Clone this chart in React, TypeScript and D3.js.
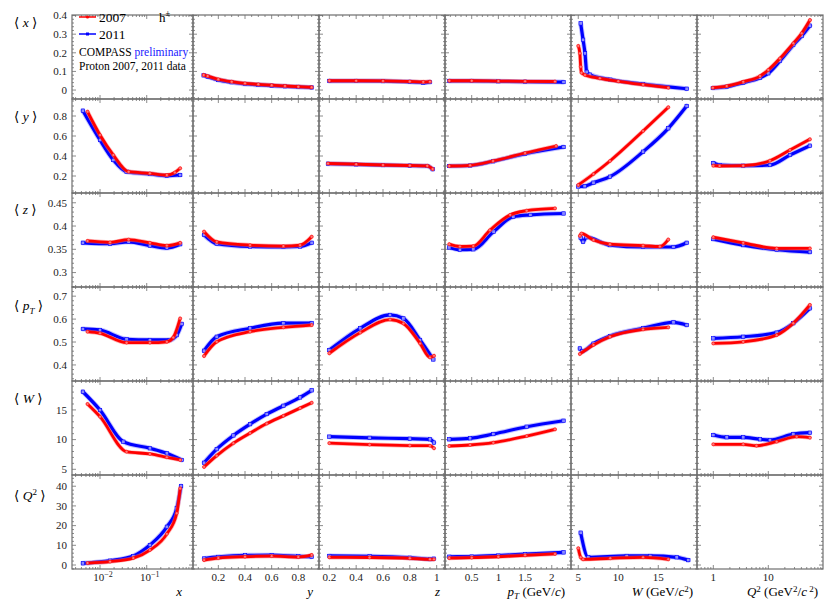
import React from 'react';
import * as d3 from 'd3';

type Pt = [number, number];

// ---------- data: <x> row ----------
const xm_y_07: Pt[] = [[0.09,0.081],[0.12,0.075],[0.2,0.058],[0.3,0.045],[0.4,0.036],[0.5,0.031],[0.6,0.026],[0.7,0.022],[0.8,0.018],[0.9,0.015]];
const xm_y_11: Pt[] = [[0.09,0.079],[0.12,0.072],[0.2,0.054],[0.3,0.042],[0.4,0.033],[0.5,0.028],[0.6,0.024],[0.7,0.020],[0.8,0.017],[0.9,0.014]];
const xm_z_07: Pt[] = [[0.2,0.05],[0.4,0.05],[0.6,0.049],[0.8,0.046],[0.9,0.044],[0.95,0.045]];
const xm_z_11: Pt[] = [[0.2,0.049],[0.4,0.049],[0.6,0.048],[0.8,0.044],[0.9,0.040],[0.95,0.043]];
const xm_pt_07: Pt[] = [[0.08,0.05],[0.5,0.05],[1.0,0.048],[1.5,0.047],[2.06,0.046]];
const xm_pt_11: Pt[] = [[0.08,0.049],[0.5,0.049],[1.0,0.047],[1.5,0.045],[2.22,0.043]];
const xm_w_07: Pt[] = [[5.0,0.237],[5.2,0.197],[5.3,0.125],[5.4,0.093],[5.84,0.081],[7.7,0.063],[10,0.047],[13.1,0.029],[16.25,0.0125]];
const xm_w_11: Pt[] = [[5.3,0.358],[5.6,0.27],[5.84,0.197],[6.05,0.098],[6.46,0.083],[9,0.056],[13.1,0.032],[18.55,0.007]];
const xm_q2_07: Pt[] = [[0.98,0.0125],[1.75,0.0215],[3.5,0.045],[7.07,0.075],[10,0.108],[16.3,0.17],[28.5,0.251],[40.5,0.305],[57.3,0.376]];
const xm_q2_11: Pt[] = [[0.98,0.011],[1.75,0.018],[3.5,0.040],[7.07,0.066],[10,0.09],[16.3,0.156],[28.5,0.242],[40.5,0.29],[57.3,0.346]];

// ---------- data: <y> row ----------
const ym_x_07: Pt[] = [[0.0054,0.843],[0.01,0.61],[0.0193,0.41],[0.041,0.243],[0.117,0.227],[0.27,0.21],[0.4,0.235],[0.52,0.277]];
const ym_x_11: Pt[] = [[0.0043,0.853],[0.01,0.56],[0.0193,0.36],[0.037,0.243],[0.117,0.22],[0.27,0.203],[0.52,0.21]];
const ym_z_07: Pt[] = [[0.19,0.325],[0.4,0.318],[0.6,0.31],[0.8,0.305],[0.93,0.302],[0.97,0.27]];
const ym_z_11: Pt[] = [[0.19,0.323],[0.4,0.316],[0.6,0.309],[0.8,0.304],[0.93,0.300],[0.97,0.268]];
const ym_pt_07: Pt[] = [[0.08,0.30],[0.47,0.307],[0.9,0.35],[1.5,0.43],[2.08,0.50]];
const ym_pt_11: Pt[] = [[0.08,0.30],[0.47,0.305],[0.9,0.347],[1.5,0.423],[2.22,0.49]];
const ym_w_07: Pt[] = [[5.0,0.11],[6.9,0.22],[8.96,0.35],[13.1,0.65],[16.25,0.887]];
const ym_w_11: Pt[] = [[5.0,0.095],[5.8,0.098],[6.9,0.133],[8.96,0.193],[13.1,0.443],[16.25,0.677],[18.55,0.90]];
const ym_q2_07: Pt[] = [[1.0,0.303],[1.3,0.300],[3.5,0.303],[10.7,0.353],[24.8,0.46],[57,0.567]];
const ym_q2_11: Pt[] = [[1.0,0.33],[1.3,0.31],[3.5,0.303],[10.7,0.31],[24.8,0.41],[57,0.503]];

// ---------- data: <z> row ----------
const zm_x_07: Pt[] = [[0.0054,0.368],[0.0164,0.365],[0.041,0.371],[0.117,0.364],[0.27,0.358],[0.52,0.364]];
const zm_x_11: Pt[] = [[0.0043,0.364],[0.0164,0.362],[0.041,0.366],[0.117,0.358],[0.27,0.353],[0.52,0.361]];
const zm_y_07: Pt[] = [[0.093,0.388],[0.188,0.366],[0.438,0.359],[0.688,0.357],[0.813,0.359],[0.9,0.377]];
const zm_y_11: Pt[] = [[0.093,0.381],[0.188,0.362],[0.438,0.356],[0.688,0.355],[0.813,0.356],[0.9,0.364]];
const zm_pt_07: Pt[] = [[0.08,0.361],[0.28,0.356],[0.53,0.357],[0.84,0.391],[1.22,0.424],[1.53,0.433],[2.06,0.438]];
const zm_pt_11: Pt[] = [[0.08,0.354],[0.28,0.349],[0.53,0.350],[0.91,0.388],[1.28,0.420],[1.6,0.424],[2.22,0.427]];
const zm_w_07: Pt[] = [[5.2,0.379],[5.4,0.384],[6.9,0.370],[8.96,0.361],[13.1,0.358],[15.2,0.356],[16.25,0.371]];
const zm_w_11: Pt[] = [[5.3,0.375],[5.6,0.366],[6.0,0.376],[8.96,0.359],[13.1,0.355],[16.9,0.355],[18.55,0.364]];
const zm_q2_07: Pt[] = [[1.0,0.376],[3.5,0.364],[14.2,0.352],[57,0.352]];
const zm_q2_11: Pt[] = [[1.0,0.372],[3.5,0.359],[14.2,0.349],[57,0.344]];

// ---------- data: <pT> row ----------
const ptm_x_07: Pt[] = [[0.0054,0.545],[0.01,0.538],[0.037,0.497],[0.117,0.497],[0.27,0.501],[0.37,0.52],[0.52,0.603]];
const ptm_x_11: Pt[] = [[0.0043,0.557],[0.01,0.552],[0.037,0.512],[0.117,0.509],[0.31,0.509],[0.44,0.53],[0.56,0.579]];
const ptm_y_07: Pt[] = [[0.093,0.439],[0.188,0.501],[0.438,0.545],[0.688,0.564],[0.9,0.574]];
const ptm_y_11: Pt[] = [[0.093,0.462],[0.188,0.523],[0.438,0.560],[0.688,0.582],[0.9,0.582]];
const ptm_z_07: Pt[] = [[0.2,0.451],[0.43,0.541],[0.652,0.598],[0.752,0.581],[0.876,0.494],[0.95,0.433],[0.98,0.44]];
const ptm_z_11: Pt[] = [[0.2,0.465],[0.43,0.560],[0.652,0.618],[0.752,0.603],[0.876,0.509],[0.975,0.424]];
const ptm_w_07: Pt[] = [[5.2,0.448],[6.9,0.487],[8.96,0.523],[13.1,0.555],[16.25,0.564]];
const ptm_w_11: Pt[] = [[5.2,0.472],[5.5,0.460],[6.9,0.493],[8.96,0.526],[13.1,0.560],[16.9,0.586],[18.55,0.574]];
const ptm_q2_07: Pt[] = [[1.0,0.494],[3.5,0.501],[14.2,0.530],[28.5,0.582],[57,0.662]];
const ptm_q2_11: Pt[] = [[1.0,0.516],[3.5,0.523],[14.2,0.541],[28.5,0.582],[57,0.647]];

// ---------- data: <W> row ----------
const wm_x_07: Pt[] = [[0.0054,16.0],[0.01,13.86],[0.037,7.96],[0.117,7.58],[0.27,7.02],[0.52,6.57]];
const wm_x_11: Pt[] = [[0.0043,18.06],[0.01,14.98],[0.0316,9.65],[0.117,8.54],[0.27,7.69],[0.56,6.57]];
const wm_y_07: Pt[] = [[0.093,5.4],[0.188,7.3],[0.313,9.4],[0.438,11.1],[0.563,12.7],[0.688,14.0],[0.813,15.3],[0.9,16.2]];
const wm_y_11: Pt[] = [[0.093,6.1],[0.188,8.4],[0.313,10.7],[0.438,12.6],[0.563,14.3],[0.688,15.7],[0.813,17.1],[0.9,18.3]];
const wm_z_07: Pt[] = [[0.2,9.4],[0.5,9.15],[0.8,9.0],[0.95,8.97],[0.98,8.55]];
const wm_z_11: Pt[] = [[0.2,10.5],[0.5,10.3],[0.8,10.15],[0.95,10.05],[0.98,9.5]];
const wm_pt_07: Pt[] = [[0.08,8.92],[0.47,9.09],[0.906,9.48],[1.53,10.6],[2.06,11.73]];
const wm_pt_11: Pt[] = [[0.08,10.05],[0.47,10.22],[0.906,10.94],[1.53,12.17],[2.22,13.18]];
const wm_q2_07: Pt[] = [[1.0,9.21],[3.5,9.21],[6.1,8.97],[14.2,9.65],[32.8,10.49],[57,10.32]];
const wm_q2_11: Pt[] = [[1.0,10.77],[1.75,10.39],[3.5,10.39],[7.07,10.05],[10.7,9.93],[28.5,10.94],[57,11.16]];

// ---------- data: <Q2> row ----------
const q2m_x_07: Pt[] = [[0.0054,1.0],[0.0164,1.7],[0.0516,3.5],[0.117,7.6],[0.27,15.8],[0.44,26.3],[0.52,38.9]];
const q2m_x_11: Pt[] = [[0.0043,0.86],[0.0164,2.2],[0.0516,4.57],[0.117,10.15],[0.27,19.4],[0.44,28.8],[0.543,40.1]];
const q2m_y_07: Pt[] = [[0.093,2.5],[0.2,3.5],[0.4,4.2],[0.6,4.5],[0.8,4.0],[0.9,5.1]];
const q2m_y_11: Pt[] = [[0.093,3.3],[0.2,4.1],[0.4,4.9],[0.6,5.0],[0.8,4.4],[0.9,4.2]];
const q2m_z_07: Pt[] = [[0.2,3.9],[0.5,3.8],[0.8,3.4],[0.95,2.9],[0.98,2.9]];
const q2m_z_11: Pt[] = [[0.2,4.6],[0.5,4.4],[0.8,3.7],[0.95,3.0],[0.98,3.2]];
const q2m_pt_07: Pt[] = [[0.08,3.5],[0.5,3.7],[1.0,4.2],[1.5,4.9],[2.06,5.6]];
const q2m_pt_11: Pt[] = [[0.08,4.2],[0.5,4.3],[1.0,4.8],[1.5,5.5],[2.22,6.4]];
const q2m_w_07: Pt[] = [[5.0,8.5],[5.3,3.9],[5.6,2.9],[9,3.4],[13.1,3.9],[16.25,2.9]];
const q2m_w_11: Pt[] = [[5.3,16.4],[6.25,3.9],[11.05,4.6],[14,4.6],[17.3,3.9],[18.75,2.5]];

// panel table [row][col] -> [2007, 2011]
const PANELS: ([Pt[], Pt[]] | null)[][] = [
  [null, [xm_y_07, xm_y_11], [xm_z_07, xm_z_11], [xm_pt_07, xm_pt_11], [xm_w_07, xm_w_11], [xm_q2_07, xm_q2_11]],
  [[ym_x_07, ym_x_11], null, [ym_z_07, ym_z_11], [ym_pt_07, ym_pt_11], [ym_w_07, ym_w_11], [ym_q2_07, ym_q2_11]],
  [[zm_x_07, zm_x_11], [zm_y_07, zm_y_11], null, [zm_pt_07, zm_pt_11], [zm_w_07, zm_w_11], [zm_q2_07, zm_q2_11]],
  [[ptm_x_07, ptm_x_11], [ptm_y_07, ptm_y_11], [ptm_z_07, ptm_z_11], null, [ptm_w_07, ptm_w_11], [ptm_q2_07, ptm_q2_11]],
  [[wm_x_07, wm_x_11], [wm_y_07, wm_y_11], [wm_z_07, wm_z_11], [wm_pt_07, wm_pt_11], null, [wm_q2_07, wm_q2_11]],
  [[q2m_x_07, q2m_x_11], [q2m_y_07, q2m_y_11], [q2m_z_07, q2m_z_11], [q2m_pt_07, q2m_pt_11], [q2m_w_07, q2m_w_11], null],
];

// ---------- axes ----------
const colDomains: [number, number][] = [[Math.pow(10, -2.6), Math.pow(10, -0.009)], [0.01, 0.955], [0.123, 1.062], [0, 2.36], [4.09, 19.84], [Math.pow(10, -0.297), Math.pow(10, 1.995)]];
const colIsLog = [true, false, false, false, false, true];
const colMajor: number[][] = [[0.01, 0.1], [0.2, 0.4, 0.6, 0.8], [0.2, 0.4, 0.6, 0.8, 1.0], [0, 0.5, 1, 1.5, 2], [5, 10, 15], [1, 10]];
const colMinorStep = [0, 0.05, 0.05, 0.1, 1, 0];
const colTickLabels: string[][] = [["10|-2", "10|-1"], ["0.2", "0.4", "0.6", "0.8"], ["0.2", "0.4", "0.6", "0.8", "1"], ["", "0.5", "1", "1.5", "2"], ["5", "10", "15"], ["1", "10"]];

const rowDomains: [number, number][] = [[-0.048, 0.403], [0.03, 0.97], [0.269, 0.471], [0.33, 0.74], [4.04, 19.87], [-2.03, 45.7]];
const rowMajor: number[][] = [[0, 0.1, 0.2, 0.3, 0.4], [0.2, 0.4, 0.6, 0.8], [0.3, 0.35, 0.4, 0.45], [0.4, 0.5, 0.6, 0.7], [5, 10, 15], [0, 10, 20, 30, 40]];
const rowMinorStep = [0.02, 0.05, 0.01, 0.02, 1, 2];
const rowTickLabels: string[][] = [["0", "0.1", "0.2", "0.3", "0.4"], ["0.2", "0.4", "0.6", "0.8"], ["0.3", "0.35", "0.4", "0.45"], ["0.4", "0.5", "0.6", "0.7"], ["5", "10", "15"], ["0", "10", "20", "30", "40"]];

// layout
const colEdges = [72, 193, 319, 445, 571, 697, 823];
const rowEdges = [15, 99, 193, 287, 381, 475, 569];
const rowLabelY = [27, 121, 214, 310, 403, 500];
const axisTitleEnd = [182, 313, 440, 565, 693, 818];

const SERIF = "'Liberation Serif', 'Times New Roman', 'DejaVu Serif', serif";
const RED = '#ff0000';
const BLUE = '#0000ff';
const FRAME = '#6e6e6e';

function linTicks(domain: [number, number], step: number): number[] {
  const out: number[] = [];
  const s = Math.ceil(domain[0] / step - 1e-9);
  const e = Math.floor(domain[1] / step + 1e-9);
  for (let i = s; i <= e; i++) out.push(+(i * step).toFixed(6));
  return out;
}
function logTicks(domain: [number, number]): { v: number; major: boolean }[] {
  const out: { v: number; major: boolean }[] = [];
  for (let e = -4; e <= 3; e++) {
    for (let k = 1; k <= 9; k++) {
      const v = k * Math.pow(10, e);
      if (v >= domain[0] && v <= domain[1]) out.push({ v, major: k === 1 });
    }
  }
  return out;
}

function RowLabel({ row }: { row: number }) {
  const y = rowLabelY[row];
  const common = { fontFamily: SERIF, fontSize: 13.5, fill: '#000' } as const;
  let inner: React.ReactNode;
  if (row === 0) inner = <tspan fontStyle="italic">x</tspan>;
  else if (row === 1) inner = <tspan fontStyle="italic">y</tspan>;
  else if (row === 2) inner = <tspan fontStyle="italic">z</tspan>;
  else if (row === 3) inner = (<><tspan fontStyle="italic">p</tspan><tspan fontStyle="italic" fontSize={9} dy={4}>T</tspan><tspan dy={-4}> </tspan></>);
  else if (row === 4) inner = <tspan fontStyle="italic">W</tspan>;
  else inner = (<><tspan fontStyle="italic">Q</tspan><tspan fontSize={9} dy={-5}>2</tspan><tspan dy={5}> </tspan></>);
  return (
    <text x={14} y={y} {...common}>
      <tspan>{'\u27E8 '}</tspan>{inner}<tspan>{row === 3 || row === 5 ? '\u27E9' : ' \u27E9'}</tspan>
    </text>
  );
}

function AxisTitle({ col }: { col: number }) {
  const x = axisTitleEnd[col];
  const y = 596;
  const common = { fontFamily: SERIF, fontSize: 13, fill: '#000', textAnchor: 'end' as const };
  if (col === 0) return <text x={x} y={y} {...common} fontStyle="italic">x</text>;
  if (col === 1) return <text x={x} y={y} {...common} fontStyle="italic">y</text>;
  if (col === 2) return <text x={x} y={y} {...common} fontStyle="italic">z</text>;
  if (col === 3)
    return (
      <text x={x} y={y} {...common}>
        <tspan fontStyle="italic">p</tspan><tspan fontStyle="italic" fontSize={9} dy={3}>T</tspan>
        <tspan dy={-3}> (GeV/</tspan><tspan fontStyle="italic">c</tspan><tspan>)</tspan>
      </text>
    );
  if (col === 4)
    return (
      <text x={x} y={y} {...common}>
        <tspan fontStyle="italic">W</tspan><tspan> (GeV/</tspan><tspan fontStyle="italic">c</tspan>
        <tspan fontSize={9} dy={-4}>2</tspan><tspan dy={4}>)</tspan>
      </text>
    );
  return (
    <text x={x} y={y} {...common}>
      <tspan fontStyle="italic">Q</tspan><tspan fontSize={9} dy={-4}>2</tspan>
      <tspan dy={4}> (GeV</tspan><tspan fontSize={9} dy={-4}>2</tspan>
      <tspan dy={4}>/</tspan><tspan fontStyle="italic">c</tspan>
      <tspan fontSize={9} dy={-4}> 2</tspan><tspan dy={4}>)</tspan>
    </text>
  );
}

export default function App() {
  const xScales = colDomains.map((d, i) =>
    (colIsLog[i] ? d3.scaleLog() : d3.scaleLinear()).domain(d).range([colEdges[i], colEdges[i + 1]])
  );
  const yScales = rowDomains.map((d, j) => d3.scaleLinear().domain(d).range([rowEdges[j + 1], rowEdges[j]]));

  const colTickSets = colDomains.map((d, i) => {
    if (colIsLog[i]) return logTicks(d);
    const maj = new Set(colMajor[i].map((v) => v.toFixed(6)));
    return linTicks(d, colMinorStep[i]).map((v) => ({ v, major: maj.has(v.toFixed(6)) }));
  });
  const rowTickSets = rowDomains.map((d, j) => {
    const maj = new Set(rowMajor[j].map((v) => v.toFixed(6)));
    return linTicks(d, rowMinorStep[j]).map((v) => ({ v, major: maj.has(v.toFixed(6)) }));
  });

  const panels: React.ReactNode[] = [];
  for (let r = 0; r < 6; r++) {
    for (let c = 0; c < 6; c++) {
      const xs = xScales[c];
      const ys = yScales[r];
      const x0 = colEdges[c], x1 = colEdges[c + 1], y0 = rowEdges[r], y1 = rowEdges[r + 1];
      const ticks: React.ReactNode[] = [];
      rowTickSets[r].forEach((t, k) => {
        const y = ys(t.v);
        const L = t.major ? 4 : 2;
        ticks.push(<line key={`l${k}`} x1={x0} x2={x0 + L} y1={y} y2={y} />);
        ticks.push(<line key={`r${k}`} x1={x1} x2={x1 - L} y1={y} y2={y} />);
      });
      colTickSets[c].forEach((t, k) => {
        const x = xs(t.v);
        const L = t.major ? 4 : 2;
        ticks.push(<line key={`b${k}`} x1={x} x2={x} y1={y1} y2={y1 - L} />);
        ticks.push(<line key={`t${k}`} x1={x} x2={x} y1={y0} y2={y0 + L} />);
      });
      const series = PANELS[r][c];
      const clipId = `clip-${r}-${c}`;
      let curves: React.ReactNode = null;
      if (series) {
        const line = d3.line<Pt>().x((d) => xs(d[0])).y((d) => ys(d[1])).curve(d3.curveMonotoneX);
        const [s07, s11] = series;
        curves = (
          <g clipPath={`url(#${clipId})`}>
            <path d={line(s11) || ''} fill="none" stroke="#7878ff" strokeOpacity={0.45} strokeWidth={5} strokeLinejoin="round" strokeLinecap="round" />
            <path d={line(s11) || ''} fill="none" stroke={BLUE} strokeWidth={3.2} strokeLinejoin="round" strokeLinecap="round" />
            {s11.map((d, k) => (
              <rect key={`m11${k}`} x={xs(d[0]) - 1.7} y={ys(d[1]) - 1.7} width={3.4} height={3.4} fill="#8c8cff" stroke={BLUE} strokeWidth={0.6} />
            ))}
            <path d={line(s07) || ''} fill="none" stroke="#ff6666" strokeOpacity={0.5} strokeWidth={4.2} strokeLinejoin="round" strokeLinecap="round" />
            <path d={line(s07) || ''} fill="none" stroke={RED} strokeWidth={2.8} strokeLinejoin="round" strokeLinecap="round" />
            {s07.map((d, k) => (
              <circle key={`m07${k}`} cx={xs(d[0])} cy={ys(d[1])} r={1.5} fill="#ff7a7a" stroke={RED} strokeWidth={0.5} />
            ))}
          </g>
        );
      }
      panels.push(
        <g key={`p${r}${c}`}>
          <clipPath id={clipId}><rect x={x0} y={y0} width={x1 - x0} height={y1 - y0} /></clipPath>
          <rect x={x0} y={y0} width={x1 - x0} height={y1 - y0} fill="none" stroke={FRAME} strokeWidth={1.2} />
          <g stroke={FRAME} strokeWidth={0.8}>{ticks}</g>
          {curves}
        </g>
      );
    }
  }

  // left tick labels
  const leftLabels: React.ReactNode[] = [];
  rowMajor.forEach((vals, j) =>
    vals.forEach((v, k) => {
      leftLabels.push(
        <text key={`yl${j}-${k}`} x={67} y={yScales[j](v) + 3.8} textAnchor="end" fontFamily={SERIF} fontSize={11} fill="#222">
          {rowTickLabels[j][k]}
        </text>
      );
    })
  );
  // bottom tick labels
  const bottomLabels: React.ReactNode[] = [];
  colMajor.forEach((vals, i) =>
    vals.forEach((v, k) => {
      const lab = colTickLabels[i][k];
      if (!lab) return;
      const x = xScales[i](v);
      if (lab.includes('|')) {
        const [base, exp] = lab.split('|');
        bottomLabels.push(
          <text key={`xl${i}-${k}`} x={x + 3} y={580.5} textAnchor="middle" fontFamily={SERIF} fontSize={11} fill="#222">
            <tspan>{base}</tspan><tspan fontSize={8} dy={-4}>{exp.replace('-', '\u2212')}</tspan>
          </text>
        );
      } else {
        bottomLabels.push(
          <text key={`xl${i}-${k}`} x={x} y={580.5} textAnchor="middle" fontFamily={SERIF} fontSize={11} fill="#222">
            {lab}
          </text>
        );
      }
    })
  );

  return (
    <svg width={830} height={605} style={{ position: 'absolute', left: 0, top: 0, background: '#fff' }}>
      <rect x={0} y={0} width={830} height={605} fill="#fff" />
      {panels}
      {leftLabels}
      {bottomLabels}
      {[0, 1, 2, 3, 4, 5].map((r) => <RowLabel key={`rl${r}`} row={r} />)}
      {[0, 1, 2, 3, 4, 5].map((c) => <AxisTitle key={`at${c}`} col={c} />)}
      {/* legend */}
      <g>
        <line x1={79} x2={96} y1={17} y2={17} stroke={RED} strokeWidth={1.5} />
        <circle cx={87.5} cy={17} r={1.6} fill={RED} />
        <text x={99} y={22} fontFamily={SERIF} fontSize={13.5} fill="#000">2007</text>
        <line x1={79} x2={96} y1={34} y2={34} stroke={BLUE} strokeWidth={1.5} />
        <rect x={86} y={32.5} width={3} height={3} fill={BLUE} />
        <text x={99} y={39} fontFamily={SERIF} fontSize={13.5} fill="#000">2011</text>
        <text x={159} y={22} fontFamily={SERIF} fontSize={13} fill="#000">
          h<tspan fontSize={8.5} dy={-6}>±</tspan>
        </text>
        <text x={79} y={56} fontFamily={SERIF} fontSize={11.5} fill="#000">
          COMPASS <tspan fill="#2020ff">preliminary</tspan>
        </text>
        <text x={79} y={70} fontFamily={SERIF} fontSize={11.5} fill="#000">Proton 2007, 2011 data</text>
      </g>
    </svg>
  );
}
